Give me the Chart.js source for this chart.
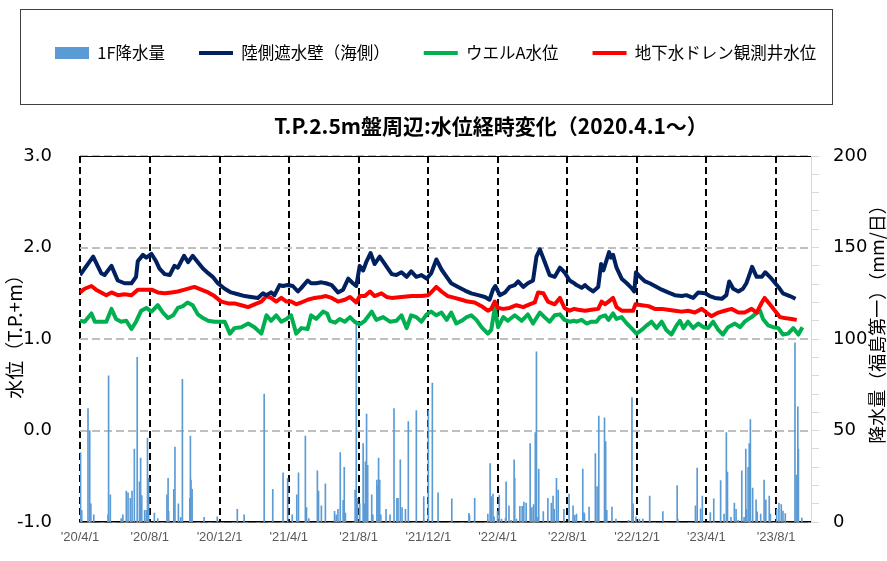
<!DOCTYPE html>
<html><head><meta charset="utf-8">
<script src="https://cdn.jsdelivr.net/npm/chart.js@4"></script>
<style>html,body{margin:0;padding:0;background:#fff}</style>
</head><body>
<canvas id="c" width="887" height="561"></canvas>
<script>
// ---- x axis: days since 2020-04-01 ----
const tickDays = [0,122,244,365,487,609,730,852,974,1095,1217];
const tickLabels = ["'20/4/1","'20/8/1","'20/12/1","'21/4/1","'21/8/1","'21/12/1","'22/4/1","'22/8/1","'22/12/1","'23/4/1","'23/8/1"];

// ---- 1F rainfall (mm/day) ----
const rainDays = [1,3,14,17,19,24,49,50,53,72,75,81,84,88,91,95,100,104,106,108,113,116,118,120,130,136,152,154,155,164,166,172,176,179,192,193,194,196,217,240,275,287,322,337,355,363,371,379,382,394,396,400,415,417,422,429,445,448,451,455,460,462,464,481,483,485,489,495,497,499,501,503,510,512,519,521,522,524,526,535,542,549,554,556,560,563,569,574,588,601,609,616,626,
650,680,681,690,713,717,719,722,724,730,733,737,744,745,750,754,759,760,763,769,773,776,780,787,790,793,796,798,800,802,810,818,824,827,829,833,836,846,855,862,865,868,879,881,882,890,901,904,907,917,919,921,930,937,959,965,967,972,978,984,996,1019,1044,1045,1076,1079,1085,1088,1102,1108,1120,1126,1130,1132,1138,1144,1147,1151,1157,1161,1164,1165,1168,1170,1172,1176,1182,1184,1190,1196,1199,1205,1207,1218,1222,1226,1229,1233,1250,1252,1255,1256,1262];
const rainMM = [38,6.5,62,50,10,4,4,80,15,2,4,17,16,13,17,40,90,22,35,14.5,6.5,6.5,46,24,5,2,15,24,6,18,41,10,2.6,78,13,47,23,18,2.6,3,7,4,70,18,27,24,4,15,27,47,8,2,28,17,9,21,6,4,7,38,12,30,5,17.5,110,13,10,43,10,33,59,31,15,4,23,20,35,23,4,7,4,62,13,13,34,8,7,55,61,14,61,76,16,
12.7,4.9,3.8,13,4.4,32,14,15.4,3,6,14.8,1.7,2.3,22,9,1,34,24,1.7,8.7,8.7,11,10.5,43,8,9.6,49,93,2.6,29,5.8,13,10.5,14.3,7,24,17.5,7,15.4,9,3.8,4.4,29,5.2,4.4,8.2,37.5,19.5,58,57,44,6.5,8.2,1.7,1,68,10,3,1.7,1.7,14.3,5.8,20,1.7,9,29.5,7.3,14.3,5.2,12.7,22.7,4.4,49,27.4,2.6,10.5,7,1,28,2.6,40,7,30,43,56,18.7,12.2,5.6,4.4,23,12.2,14.3,4.4,7,10.5,9.6,6.1,4.7,98,25.7,63,40,2.3];

// ---- 陸側遮水壁（海側） (T.P.+m) ----
const wallDays = [0,23,37,43,55,66,78,90,98,101,110,116,125,133,139,148,157,165,171,182,189,197,206,215,224,232,241,253,264,276,288,299,311,320,326,334,340,349,355,363,372,381,387,398,404,413,422,430,
440,451,460,469,477,483,489,495,501,508,515,524,533,545,553,562,571,579,588,597,606,614,623,632,641,649,661,673,684,696,708,716,722,726,734,743,751,760,766,775,783,792,798,804,812,821,830,839,847,856,864,
868,877,883,888,897,906,911,915,921,925,928,932,938,947,956,964,969,972,979,988,996,1005,1017,1028,1040,1052,1060,1072,1081,1093,1101,1110,1122,1130,1135,1142,1151,1159,1165,1169,1175,1183,1192,1198,1209,1221,1229,1241,1251];
const wallLevel = [1.70,1.90,1.72,1.70,1.80,1.64,1.61,1.61,1.68,1.85,1.92,1.89,1.93,1.85,1.77,1.71,1.70,1.80,1.78,1.91,1.84,1.91,1.84,1.77,1.72,1.68,1.61,1.55,1.51,1.49,1.47,1.46,1.45,1.50,1.48,1.51,1.48,1.59,1.58,1.59,1.58,1.52,1.56,1.64,1.61,1.61,1.62,1.61,
1.59,1.51,1.54,1.66,1.61,1.58,1.80,1.75,1.85,1.94,1.82,1.90,1.82,1.71,1.70,1.73,1.68,1.74,1.68,1.70,1.66,1.72,1.87,1.76,1.68,1.61,1.57,1.53,1.50,1.48,1.46,1.43,1.54,1.58,1.48,1.51,1.57,1.59,1.63,1.57,1.61,1.64,1.90,1.98,1.85,1.70,1.68,1.78,1.73,1.64,1.61,
1.59,1.56,1.59,1.56,1.52,1.57,1.82,1.75,1.87,1.95,1.89,1.92,1.78,1.66,1.61,1.56,1.52,1.73,1.68,1.63,1.61,1.58,1.54,1.51,1.48,1.47,1.48,1.45,1.51,1.50,1.47,1.45,1.44,1.48,1.63,1.55,1.52,1.55,1.61,1.68,1.79,1.68,1.68,1.73,1.66,1.57,1.50,1.47,1.44];

// ---- ウエルA水位 (T.P.+m) ----
const wellDays = [0,8,20,26,37,46,55,63,72,81,90,98,107,116,125,136,145,154,163,171,180,188,197,206,215,224,235,253,262,270,282,294,305,317,326,334,343,352,361,369,378,387,398,404,413,425,
432,437,446,454,463,472,480,489,498,510,518,530,542,553,562,571,579,588,597,606,614,623,632,641,649,658,667,676,684,693,702,713,719,725,731,740,748,760,772,783,792,804,812,821,830,839,847,856,864,
868,877,886,894,903,909,918,924,932,938,947,956,964,973,982,991,999,1008,1017,1025,1034,1043,1049,1055,1063,1072,1081,1090,1098,1107,1116,1124,1133,1145,1154,1162,1174,1180,1189,1194,1203,1212,1221,1229,1238,1247,1256,1263];
const wellLevel = [1.20,1.19,1.28,1.19,1.19,1.19,1.33,1.22,1.19,1.20,1.11,1.19,1.31,1.34,1.30,1.37,1.29,1.23,1.26,1.34,1.36,1.40,1.37,1.27,1.23,1.20,1.19,1.19,1.06,1.12,1.13,1.17,1.13,1.06,1.26,1.20,1.26,1.19,1.22,1.26,1.06,1.12,1.11,1.26,1.22,1.30,
1.28,1.20,1.18,1.22,1.19,1.24,1.19,1.16,1.20,1.30,1.21,1.24,1.19,1.20,1.26,1.12,1.26,1.24,1.19,1.27,1.30,1.26,1.29,1.21,1.29,1.17,1.20,1.24,1.26,1.21,1.13,1.06,1.10,1.34,1.13,1.24,1.20,1.26,1.20,1.27,1.17,1.29,1.24,1.19,1.26,1.27,1.21,1.19,1.20,
1.19,1.21,1.17,1.19,1.19,1.24,1.26,1.21,1.28,1.22,1.24,1.17,1.12,1.06,1.10,1.15,1.19,1.12,1.19,1.10,1.05,1.15,1.20,1.12,1.19,1.12,1.17,1.13,1.12,1.19,1.10,1.05,1.13,1.17,1.13,1.19,1.24,1.27,1.31,1.22,1.15,1.13,1.12,1.05,1.06,1.12,1.05,1.13];

// ---- 地下水ドレン観測井水位 (T.P.+m) ----
const drainDays = [0,8,20,28,37,46,55,66,78,90,101,113,125,136,148,160,171,183,200,212,224,235,247,259,270,282,294,305,317,326,334,343,352,361,369,378,387,398,410,422,430,
440,451,463,472,483,489,498,507,515,527,536,545,562,580,597,609,614,623,632,643,655,667,678,690,702,713,719,725,731,740,751,763,775,786,795,801,810,818,830,839,847,856,864,
871,883,894,906,912,918,924,932,938,947,959,967,971,982,994,1005,1017,1028,1040,1052,1063,1075,1087,1095,1104,1116,1127,1139,1151,1162,1174,1183,1192,1197,1206,1215,1224,1232,1244,1253];
const drainLevel = [1.51,1.55,1.58,1.54,1.51,1.48,1.51,1.48,1.49,1.48,1.54,1.54,1.54,1.51,1.50,1.51,1.52,1.54,1.57,1.54,1.51,1.47,1.41,1.39,1.39,1.37,1.35,1.38,1.41,1.47,1.45,1.41,1.45,1.41,1.41,1.38,1.40,1.43,1.45,1.46,1.47,
1.45,1.41,1.43,1.46,1.40,1.47,1.47,1.52,1.47,1.50,1.46,1.45,1.46,1.47,1.47,1.48,1.51,1.57,1.52,1.47,1.45,1.43,1.41,1.40,1.36,1.31,1.33,1.41,1.34,1.33,1.34,1.37,1.35,1.38,1.40,1.51,1.50,1.41,1.38,1.45,1.34,1.31,1.33,
1.32,1.31,1.32,1.33,1.41,1.38,1.41,1.45,1.35,1.31,1.31,1.31,1.38,1.37,1.36,1.33,1.33,1.32,1.31,1.30,1.31,1.29,1.33,1.29,1.25,1.29,1.31,1.33,1.29,1.29,1.33,1.29,1.40,1.45,1.38,1.31,1.24,1.23,1.22,1.21];

const CJK = "'Noto Sans CJK JP', sans-serif";
const leftTitle = '水位（T.P.+m）';
const rightTitle = '降水量（福島第一）（mm/日）';
const barColor = '#5b9bd5';

const pts = (xs, ys) => xs.map((d, i) => ({x: d, y: ys[i]}));

function drawVertical(ctx, text, x, y, size) {
  ctx.save();
  ctx.translate(x, y);
  ctx.rotate(-Math.PI / 2);
  ctx.font = size + 'px ' + CJK;
  ctx.fillStyle = '#000';
  ctx.textAlign = 'center';
  ctx.textBaseline = 'middle';
  ctx.fillText(text, 0, 0);
  ctx.restore();
}

const framePlugin = {
  id: 'frame',
  afterLayout(chart) {
    chart.legend.left = 21;
    chart.titleBlock.left = 95;
  },
  beforeDraw(chart) {
    const ctx = chart.ctx;
    ctx.save();
    ctx.fillStyle = '#fff';
    ctx.fillRect(0, 0, chart.width, chart.height);
    ctx.restore();
  },
  beforeDatasetsDraw(chart) {
    const {ctx, chartArea: a} = chart;
    ctx.save();
    ctx.strokeStyle = '#000';
    ctx.lineWidth = 1;
    ctx.beginPath();
    ctx.moveTo(a.left, a.top + 0.5);
    ctx.lineTo(a.right, a.top + 0.5);
    ctx.stroke();
    ctx.restore();
  },
  afterDraw(chart) {
    const ctx = chart.ctx;
    ctx.save();
    ctx.strokeStyle = '#404040';
    ctx.lineWidth = 1;
    ctx.strokeRect(20.5, 9.5, 812, 95);
    ctx.restore();
    drawVertical(ctx, leftTitle, 15, 332, 19);
    drawVertical(ctx, rightTitle, 877, 320, 18);
  }
};

new Chart(document.getElementById('c'), {
  type: 'bar',
  data: {
    datasets: [
      { type: 'bar', label: '1F降水量', data: pts(rainDays, rainMM), yAxisID: 'y1', xAxisID: 'x',
        backgroundColor: barColor, borderWidth: 0, barThickness: 1, order: 5 },
      { type: 'line', label: '陸側遮水壁（海側）', data: pts(wallDays, wallLevel), yAxisID: 'y', xAxisID: 'x',
        borderColor: '#002060', borderWidth: 4, pointRadius: 0, pointBorderWidth: 4, tension: 0, order: 1, borderJoinStyle: 'round' },
      { type: 'line', label: 'ウエルA水位', data: pts(wellDays, wellLevel), yAxisID: 'y', xAxisID: 'x',
        borderColor: '#00b050', borderWidth: 4, pointRadius: 0, pointBorderWidth: 4, tension: 0, order: 3, borderJoinStyle: 'round' },
      { type: 'line', label: '地下水ドレン観測井水位', data: pts(drainDays, drainLevel), yAxisID: 'y', xAxisID: 'x',
        borderColor: '#ff0000', borderWidth: 4, pointRadius: 0, pointBorderWidth: 4, tension: 0, order: 2, borderJoinStyle: 'round' }
    ]
  },
  options: {
    responsive: false,
    animation: false,
    devicePixelRatio: 1,
    layout: { padding: { top: 10.75, left: 0, right: 0, bottom: 0 } },
    plugins: {
      tooltip: { enabled: false },
      legend: {
        position: 'top', align: 'start', weight: 1000,
        labels: {
          usePointStyle: true, pointStyleWidth: 34, boxHeight: 12, padding: 34,
          color: '#000', font: { family: CJK, size: 16.5 },
          sort: (a, b) => a.datasetIndex - b.datasetIndex,
          generateLabels(chart) {
            const items = Chart.defaults.plugins.legend.labels.generateLabels(chart);
            items.forEach(it => {
              const ds = chart.data.datasets[it.datasetIndex];
              if (ds.type === 'bar') {
                it.pointStyle = 'rect'; it.lineWidth = 0; it.fillStyle = barColor; it.strokeStyle = barColor;
              } else {
                it.pointStyle = 'line'; it.lineWidth = 4; it.strokeStyle = ds.borderColor; it.fillStyle = ds.borderColor;
              }
            });
            return items;
          }
        }
      },
      title: {
        display: true, weight: 500,
        text: 'T.P.2.5m盤周辺:水位経時変化（2020.4.1～）',
        color: '#000',
        font: { family: CJK, size: 21, weight: 'bold' },
        padding: { top: 42.15, bottom: 17.4 }
      }
    },
    scales: {
      x: {
        type: 'linear', position: 'bottom', min: 0, max: 1278, offset: false,
        afterBuildTicks: s => { s.ticks = tickDays.map(v => ({ value: v })); },
        afterFit: s => { s.height = 23; },
        ticks: {
          autoSkip: false, maxRotation: 0, minRotation: 0, padding: 7,
          color: '#595959', font: { family: "'Liberation Sans', Arial, sans-serif", size: 13 },
          callback: (v, i) => tickLabels[i]
        },
        grid: { color: '#000', lineWidth: 2, drawTicks: false, offset: false },
        border: { display: true, color: '#000', width: 1.5, dash: [7, 4] }
      },
      y: {
        position: 'left', min: -1, max: 3,
        afterFit: s => { s.width = 80; },
        ticks: {
          stepSize: 1, autoSkip: false, padding: 28, color: '#000',
          font: { family: "'DejaVu Sans', sans-serif", size: 18 },
          callback: v => Number(v).toFixed(1)
        },
        grid: { color: '#bfbfbf', lineWidth: 2, drawTicks: false },
        border: { display: false, dash: [8, 4] },
        title: { display: false, text: leftTitle }
      },
      y1: {
        position: 'right', min: 0, max: 200,
        afterFit: s => { s.width = 76; },
        ticks: {
          stepSize: 10, autoSkip: false, padding: 14, color: '#000',
          font: { family: "'DejaVu Sans', sans-serif", size: 18 },
          callback: v => (v % 50 === 0 ? String(v) : '')
        },
        grid: { drawOnChartArea: false, drawTicks: true, tickLength: 8, color: '#d9d9d9', lineWidth: 1 },
        border: { display: true, color: '#d9d9d9', width: 1 },
        title: { display: false, text: rightTitle }
      }
    }
  },
  plugins: [framePlugin]
});
</script>
</body></html>
